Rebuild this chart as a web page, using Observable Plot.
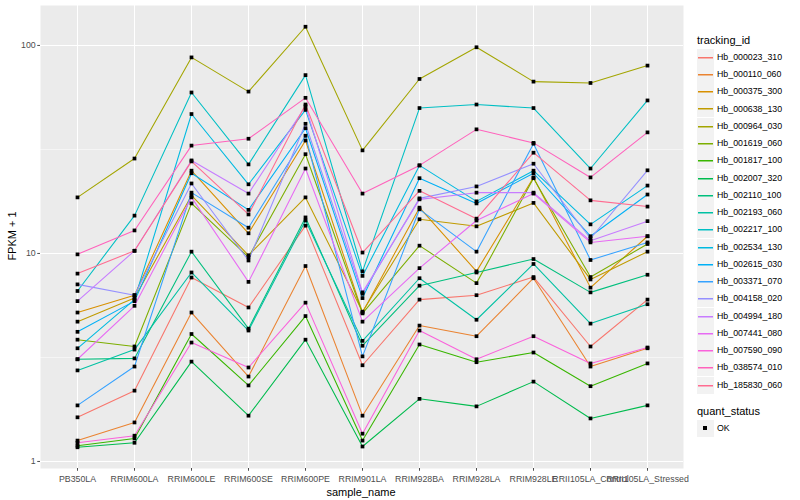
<!DOCTYPE html>
<html><head><meta charset="utf-8">
<script src="https://cdn.jsdelivr.net/npm/d3@7"></script>
<script src="https://cdn.jsdelivr.net/npm/@observablehq/plot@0.6"></script>
<style>
body{margin:0;background:#fff;font-family:"Liberation Sans",Arial,Helvetica,sans-serif;}
#wrap{position:relative;width:800px;height:500px;overflow:hidden;}
#ylab{position:absolute;left:12px;top:236px;transform:translate(-50%,-50%) rotate(-90deg);font-size:11px;white-space:nowrap;color:#000;}
#xlab{position:absolute;left:361px;top:492px;transform:translate(-50%,-50%);font-size:11px;white-space:nowrap;color:#000;}
#legend{position:absolute;left:0;top:0;width:800px;height:500px;pointer-events:none;}
.lt{position:absolute;font-size:11px;white-space:nowrap;color:#000;line-height:13px;}
.key{position:absolute;width:17px;height:17px;background:#F2F2F2;}
.key i{position:absolute;left:1px;right:1px;top:8px;height:1px;display:block;box-shadow:0 0.5px 0 0 currentColor;}
.li{position:absolute;font-size:8.8px;white-space:nowrap;color:#000;line-height:11px;}
</style></head><body>
<div id="wrap"><div id="chart"></div><div id="ylab">FPKM + 1</div><div id="xlab">sample_name</div><div id="legend"></div></div>
<script>
const samples = ["PB350LA","RRIM600LA","RRIM600LE","RRIM600SE","RRIM600PE","RRIM901LA","RRIM928BA","RRIM928LA","RRIM928LE","RRII105LA_Control","RRII105LA_Stressed"];
const trackingIds = ["Hb_000023_310","Hb_000110_060","Hb_000375_300","Hb_000638_130","Hb_000964_030","Hb_001619_060","Hb_001817_100","Hb_002007_320","Hb_002110_100","Hb_002193_060","Hb_002217_100","Hb_002534_130","Hb_002615_030","Hb_003371_070","Hb_004158_020","Hb_004994_180","Hb_007441_080","Hb_007590_090","Hb_038574_010","Hb_185830_060"];
const yTicks = [1, 10, 100];
const yMinor = [3.162, 31.62];

// FPKM + 1 per sample, in the order of `samples`
const hb_000023_310 = [1.63, 2.19, 7.66, 5.5, 13.6, 2.9, 6.0, 6.3, 7.7, 3.57, 6.0];
const hb_000110_060 = [1.26, 1.54, 5.2, 2.56, 8.7, 1.66, 4.5, 4.0, 7.6, 2.86, 3.5];
const hb_000375_300 = [5.2, 6.3, 25, 12.5, 34.9, 5.2, 16.6, 8.2, 23.2, 6.85, 12.1];
const hb_000638_130 = [4.7, 6.1, 19.0, 9.8, 18.6, 5.25, 14.6, 13.5, 17.5, 7.5, 10.2];
const hb_000964_030 = [18.6, 28.6, 87.6, 60, 123, 31.3, 69, 98, 67, 66, 80];
const hb_001619_060 = [3.85, 3.57, 17.4, 9.6, 30, 5.15, 10.9, 7.2, 23, 7.7, 11.1];
const hb_001817_100 = [1.19, 1.29, 4.1, 2.32, 5.0, 1.26, 3.65, 3.0, 3.34, 2.3, 2.96];
const hb_002007_320 = [1.17, 1.23, 3.02, 1.66, 3.85, 1.18, 2.0, 1.84, 2.42, 1.61, 1.86];
const hb_002110_100 = [3.1, 3.13, 10.2, 4.35, 14.9, 3.6, 7.0, 8.1, 9.4, 6.5, 7.9];
const hb_002193_060 = [2.74, 3.45, 8.1, 4.26, 14.4, 3.8, 7.6, 4.8, 8.9, 4.6, 5.7];
const hb_002217_100 = [6.6, 15.2, 59.4, 26.8, 72, 8.2, 50, 52, 50, 25.6, 54.4];
const hb_002534_130 = [3.5, 6.0, 46.8, 21.5, 49, 7.8, 26.5, 17.8, 25, 13.8, 21.2];
const hb_002615_030 = [4.2, 5.9, 24.3, 16.2, 40, 6.1, 23, 17.4, 24.3, 12.1, 19.2];
const hb_003371_070 = [1.86, 2.86, 19.6, 13.3, 36.8, 3.2, 16.3, 10.2, 33.7, 9.3, 11.3];
const hb_004158_020 = [7.1, 6.3, 21.7, 9.25, 42, 6.4, 18.4, 21, 27, 11.8, 25.1];
const hb_004994_180 = [5.9, 10.3, 28, 19.4, 51, 6.5, 18.2, 19.6, 19.6, 11.5, 14.3];
const hb_007441_080 = [3.1, 5.6, 18.6, 7.3, 25.6, 4.7, 8.5, 14.4, 19.4, 11.3, 12.1];
const hb_007590_090 = [1.23, 1.33, 3.73, 2.83, 5.8, 1.36, 4.26, 3.1, 4.0, 2.96, 3.53];
const hb_038574_010 = [9.9, 12.9, 33, 35.6, 56, 19.4, 26.5, 39.5, 34, 23.2, 38.2];
const hb_185830_060 = [8.0, 10.3, 27.7, 15.4, 52, 10.1, 20, 14.7, 30.5, 18, 16.8];
const quantStatus = ["OK"];

const seriesList = [hb_000023_310, hb_000110_060, hb_000375_300, hb_000638_130, hb_000964_030, hb_001619_060, hb_001817_100, hb_002007_320, hb_002110_100, hb_002193_060, hb_002217_100, hb_002534_130, hb_002615_030, hb_003371_070, hb_004158_020, hb_004994_180, hb_007441_080, hb_007590_090, hb_038574_010, hb_185830_060];

// ggplot2 default hue palette for 20 levels
const palette = ["#F8766D","#EA8331","#D89000","#C09B00","#A3A500","#7CAE00","#39B600","#00BB4E","#00BF7D","#00C1A3","#00BFC4","#00BAE0","#00B0F6","#35A2FF","#9590FF","#C77CFF","#E76BF3","#FA62DB","#FF62BC","#FF6C91"];

const rows = [];
trackingIds.forEach((id, i) => samples.forEach((s, j) => rows.push({id, sample: s, value: seriesList[i][j], status: quantStatus[0]})));

const chart = Plot.plot({
  width: 800, height: 500,
  marginLeft: 40, marginRight: 117, marginTop: 5, marginBottom: 32,
  style: {fontFamily: "Liberation Sans, Arial, Helvetica, sans-serif", fontSize: "8.8px", background: "transparent", overflow: "visible"},
  x: {type: "point", domain: samples, padding: 0.6, label: null},
  y: {type: "log", domain: [0.925, 155.6], label: null},
  color: {domain: trackingIds, range: palette},
  marks: [
    Plot.frame({fill: "#EBEBEB", stroke: null}),
    Plot.ruleY(yMinor, {stroke: "white", strokeWidth: 0.55}),
    Plot.ruleY(yTicks, {stroke: "white", strokeWidth: 1.07}),
    Plot.ruleX(samples, {stroke: "white", strokeWidth: 1.07}),
    Plot.line(rows, {x: "sample", y: "value", z: "id", stroke: "id", strokeWidth: 1.07}),
    Plot.dot(rows, {x: "sample", y: "value", symbol: "square", r: 2.1, fill: "black", stroke: null}),
    Plot.axisX({tickSize: 2.75, tickPadding: 4.5, color: "#4D4D4D", label: null}),
    Plot.axisY({ticks: yTicks, tickSize: 2.75, tickPadding: 2, tickFormat: d => String(d), color: "#4D4D4D", label: null})
  ]
});
document.getElementById("chart").appendChild(chart);

// legend
const lg = document.getElementById("legend");
function add(html){ lg.insertAdjacentHTML("beforeend", html); }
add(`<div class="lt" style="left:697px;top:34px">tracking_id</div>`);
trackingIds.forEach((id, i) => {
  const cy = 57.3 + 17.26 * i;
  add(`<div class="key" style="left:697px;top:${Math.round(cy-8.6)}px"><i style="background:${palette[i]};color:${palette[i]}"></i></div>`);
  add(`<div class="li" style="left:717px;top:${Math.round(cy-5.5)}px">${id}</div>`);
});
add(`<div class="lt" style="left:697px;top:405px">quant_status</div>`);
add(`<div class="key" style="left:697px;top:420px"><i style="left:6px;right:auto;width:4px;height:4px;top:6px;background:#000;box-shadow:none"></i></div>`);
add(`<div class="li" style="left:717px;top:423px">${quantStatus[0]}</div>`);
</script>
</body></html>
